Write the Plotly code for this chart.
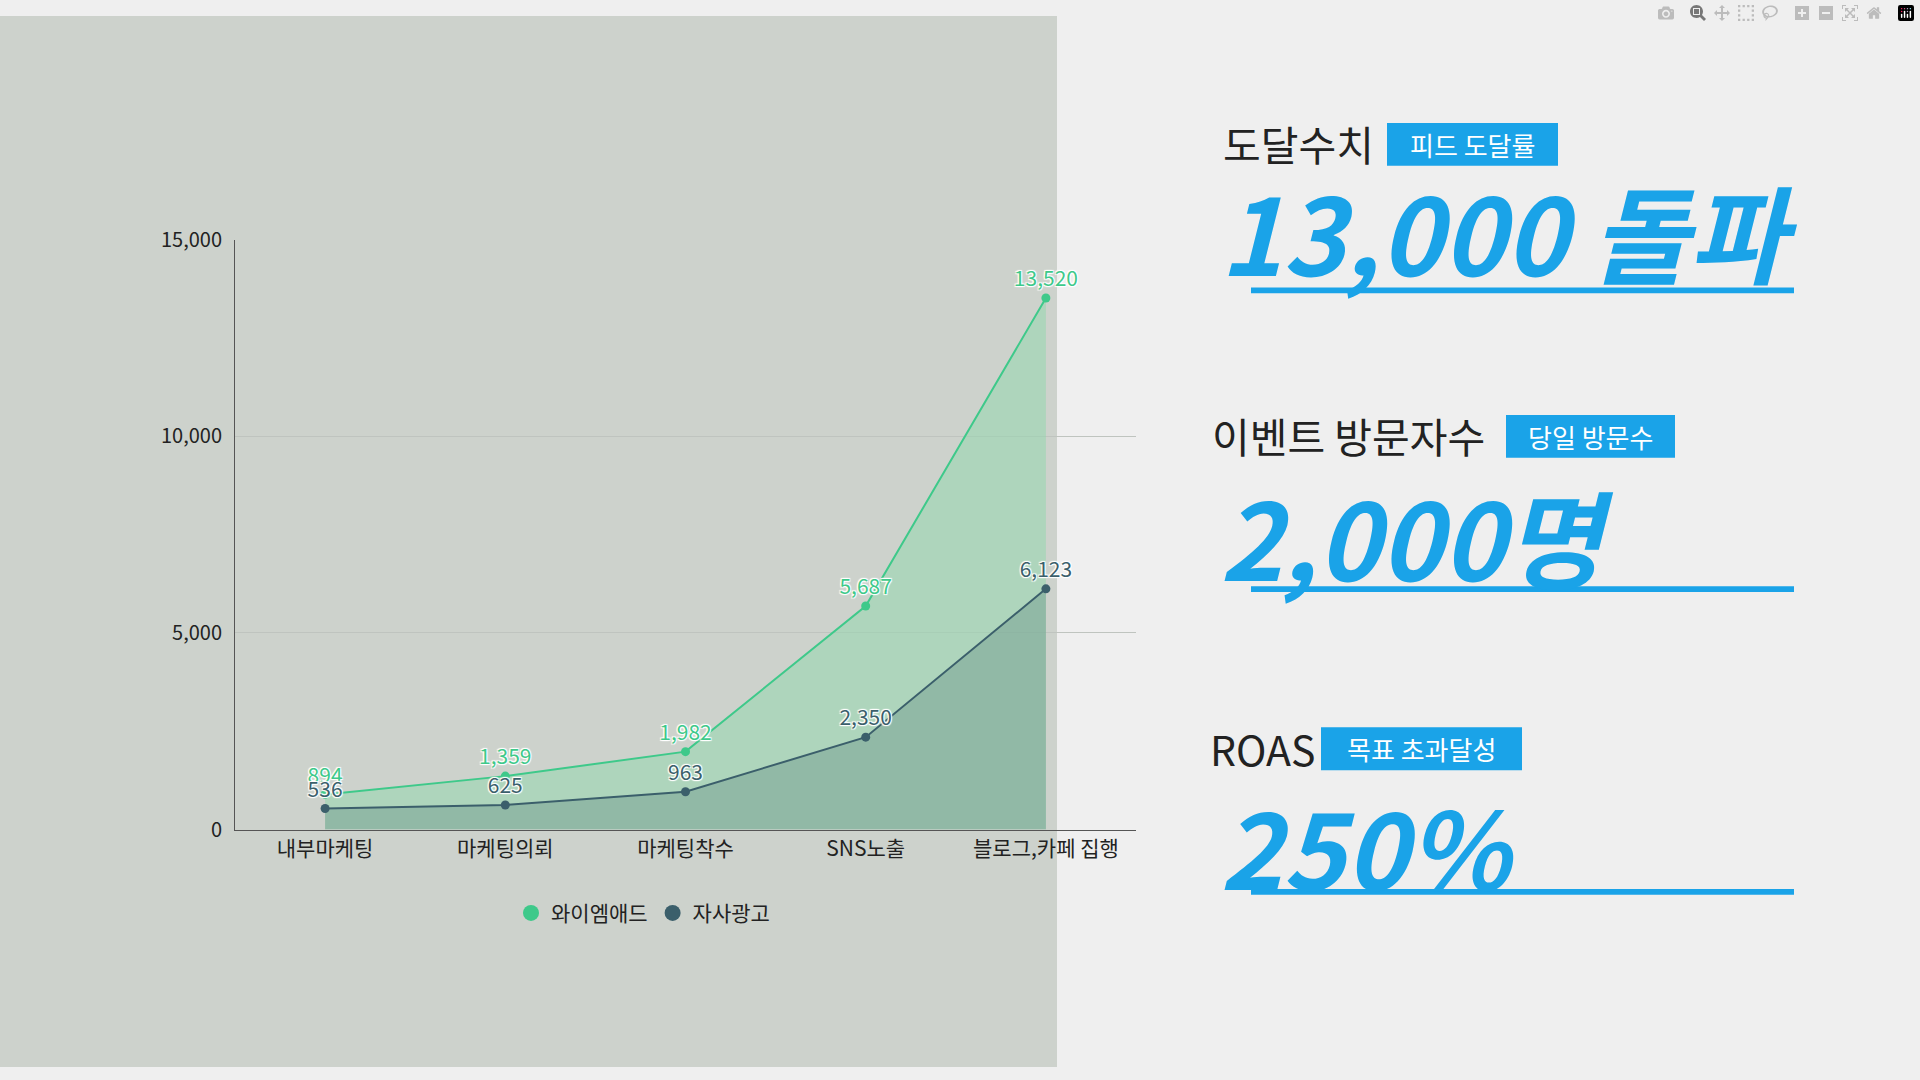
import plotly.graph_objects as go

categories = ["내부마케팅", "마케팅의뢰", "마케팅착수", "SNS노출", "블로그,카페 집행"]
wyem = [894, 1359, 1982, 5687, 13520]
own = [536, 625, 963, 2350, 6123]
series_names = ["와이엠애드", "자사광고"]

W, H = 1920, 1080
FONT = "Noto Sans CJK KR"
GREEN = "#3ec98a"
DARK = "#3b5f6b"
BLUE = "#1aa3e8"
OUTLINE = "1px 1px 1px white, -1px -1px 1px white, 1px -1px 1px white, -1px 1px 1px white"

fig = go.Figure()
fig.add_trace(go.Scatter(
    x=categories, y=wyem, name=series_names[0], mode="lines+markers+text", showlegend=False,
    line=dict(color=GREEN, width=2), marker=dict(size=9, color=GREEN),
    fill="tozeroy", fillcolor="rgba(150,215,175,0.55)",
    text=[f"{v:,}" for v in wyem], textposition="top center",
    textfont=dict(color=GREEN, size=21, family=FONT, shadow=OUTLINE),
))
fig.add_trace(go.Scatter(
    x=categories, y=own, name=series_names[1], mode="lines+markers+text", showlegend=False,
    line=dict(color=DARK, width=2), marker=dict(size=9, color=DARK),
    fill="tozeroy", fillcolor="rgba(110,150,140,0.45)",
    text=[f"{v:,}" for v in own], textposition="top center",
    textfont=dict(color=DARK, size=21, family=FONT, shadow=OUTLINE),
))
for name, col in zip(series_names, [GREEN, DARK]):
    fig.add_trace(go.Scatter(x=[None], y=[None], name=name, mode="markers",
                             marker=dict(size=20, color=col)))

def px(x): return x / W
def py(y): return 1 - y / H

shapes = [dict(type="rect", xref="paper", yref="paper", x0=0, x1=px(1057), y0=0, y1=1,
               fillcolor="#cdd2cc", line=dict(width=0), layer="below")]
annotations = []

sections = [
    ("도달수치", "피드 도달률", "13,000 돌파", 131, 1221, 1387, 1558, 220, 282),
    ("이벤트 방문자수", "당일 방문수", "2,000명", 431, 1210, 1506, 1675, 533, 589),
    ("ROAS", "목표 초과달성", "250%", 752, 1208, 1321, 1522, 851, 900),
]
for title, badge, big, ty, tx, bx0, bx1, ny, uy in sections:
    annotations.append(dict(xref="paper", yref="paper", x=px(tx), y=py(ty), text=title,
                            showarrow=False, xanchor="left", yanchor="middle",
                            font=dict(family=FONT, size=41, color="#222")))
    shapes.append(dict(type="rect", xref="paper", yref="paper", x0=px(bx0), x1=px(bx1),
                       y0=py(ty + 23), y1=py(ty - 21), fillcolor=BLUE, line=dict(width=0)))
    annotations.append(dict(xref="paper", yref="paper", x=px((bx0 + bx1) / 2), y=py(ty + 1), text=badge,
                            showarrow=False, xanchor="center", yanchor="middle",
                            font=dict(family=FONT, size=26, color="white")))
    shapes.append(dict(type="rect", xref="paper", yref="paper", x0=px(1251), x1=px(1794),
                       y0=py(uy + 3), y1=py(uy - 3), fillcolor=BLUE, line=dict(width=0)))
    annotations.append(dict(xref="paper", yref="paper", x=px(1218), y=py(ny), text=f"<b><i>{big}</i></b>",
                            showarrow=False, xanchor="left", yanchor="middle",
                            font=dict(family=FONT, size=106, color=BLUE)))

fig.update_layout(
    width=W, height=H, margin=dict(l=0, r=0, t=0, b=0),
    paper_bgcolor="#efefef", plot_bgcolor="rgba(0,0,0,0)",
    font=dict(family=FONT, size=20, color="#222"),
    shapes=shapes, annotations=annotations,
    xaxis=dict(domain=[px(235), px(1136)], range=[-0.5, 4.5], showgrid=False,
               showline=True, linecolor="#555", linewidth=1, ticks="",
               tickfont=dict(size=21, color="#222")),
    yaxis=dict(domain=[py(836), py(230)], range=[0, 15000], tickvals=[0, 5000, 10000, 15000],
               ticktext=["0", "5,000", "10,000", "15,000"], showgrid=True, gridcolor="#bfc4bf",
               showline=True, linecolor="#555", linewidth=1, zeroline=False,
               tickfont=dict(size=20, color="#222"), ticklabelstandoff=8),
    legend=dict(orientation="h", x=px(643), y=py(922), xanchor="center", yanchor="middle",
                font=dict(size=21, color="#222"), bgcolor="rgba(0,0,0,0)", itemwidth=30),
    showlegend=True,
)
fig.write_html("out.html")

with open("out.html", encoding="utf-8") as f:
    html = f.read()
html = html.replace("<body>", '<body style="margin:0;overflow:hidden">', 1)
with open("out.html", "w", encoding="utf-8") as f:
    f.write(html)
